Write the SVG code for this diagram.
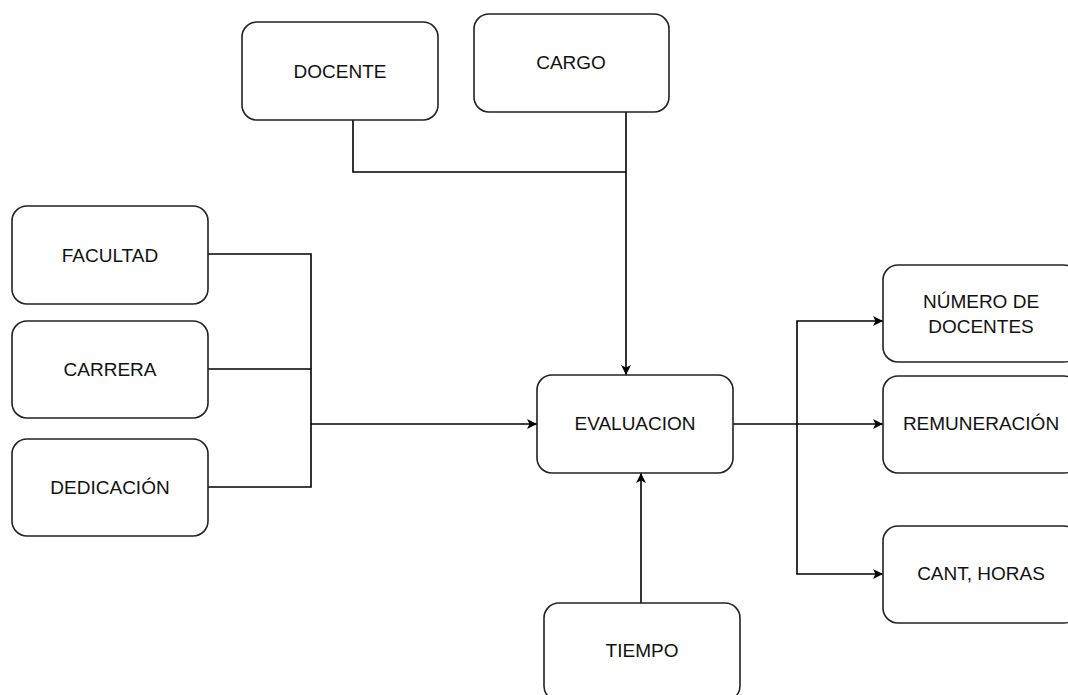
<svg xmlns="http://www.w3.org/2000/svg" width="1068" height="695" viewBox="0 0 1068 695">
<style>
.box{fill:#fff;stroke:#222;stroke-width:1.6}
.lbl{font-family:"Liberation Sans",Arial,sans-serif;font-size:19px;fill:#111;text-anchor:middle;dominant-baseline:central}
.edge{fill:none;stroke:#000;stroke-width:1.6}
</style>
<defs>
<marker id="arr" viewBox="0 0 10 10" refX="10" refY="5" markerWidth="10" markerHeight="10" markerUnits="userSpaceOnUse" orient="auto">
<path d="M0,0 L10,5 L0,10 L2.5,5 Z" fill="#000"/>
</marker>
</defs>
<rect width="1068" height="695" fill="#fff"/>
<g id="connectors">
<path class="edge" d="M353,120 V172 H626"/>
<path class="edge" d="M626,112 V375" marker-end="url(#arr)"/>
<path class="edge" d="M208,254 H311 V487 H208"/>
<path class="edge" d="M208,369 H311"/>
<path class="edge" d="M311,424 H537" marker-end="url(#arr)"/>
<path class="edge" d="M641,603 V473" marker-end="url(#arr)"/>
<path class="edge" d="M733,424 H883" marker-end="url(#arr)"/>
<path class="edge" d="M797,424 V321 H883" marker-end="url(#arr)"/>
<path class="edge" d="M797,424 V574 H883" marker-end="url(#arr)"/>
</g>
<g id="docente"><rect class="box" x="242" y="22" width="196" height="98" rx="15"/><text class="lbl" x="340" y="71">DOCENTE</text></g>
<g id="cargo"><rect class="box" x="474" y="14" width="195" height="98" rx="15"/><text class="lbl" x="571" y="62">CARGO</text></g>
<g id="facultad"><rect class="box" x="12" y="206" width="196" height="98" rx="15"/><text class="lbl" x="110" y="255">FACULTAD</text></g>
<g id="carrera"><rect class="box" x="12" y="321" width="196" height="97" rx="15"/><text class="lbl" x="110" y="369">CARRERA</text></g>
<g id="dedicacion"><rect class="box" x="12" y="439" width="196" height="97" rx="15"/><text class="lbl" x="110" y="487">DEDICACIÓN</text></g>
<g id="evaluacion"><rect class="box" x="537" y="375" width="196" height="98" rx="15"/><text class="lbl" x="635" y="423">EVALUACION</text></g>
<g id="numero"><rect class="box" x="883" y="265" width="196" height="97" rx="15"/><text class="lbl" x="981" y="301">NÚMERO DE</text><text class="lbl" x="981" y="326">DOCENTES</text></g>
<g id="remuneracion"><rect class="box" x="883" y="376" width="196" height="97" rx="15"/><text class="lbl" x="981" y="423">REMUNERACIÓN</text></g>
<g id="cant-horas"><rect class="box" x="883" y="526" width="196" height="97" rx="15"/><text class="lbl" x="981" y="573">CANT, HORAS</text></g>
<g id="tiempo"><rect class="box" x="544" y="603" width="196" height="98" rx="15"/><text class="lbl" x="642" y="650">TIEMPO</text></g>
</svg>
